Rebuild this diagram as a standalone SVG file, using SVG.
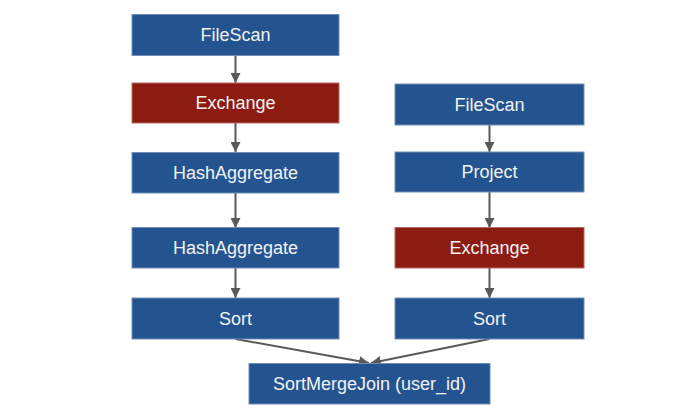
<svg xmlns="http://www.w3.org/2000/svg" width="700" height="412" viewBox="0 0 700 412">
<defs>
<style>
.blue{fill:#24548f;stroke:#6f8fb8;stroke-width:1}
.red{fill:#8c1b12;stroke:#b86a62;stroke-width:1}
.lbl{font-family:"Liberation Sans",Arial,sans-serif;font-size:18px;fill:#f2f2f2;text-anchor:middle;dominant-baseline:central}
.edge{stroke:#595959;stroke-width:2;fill:none;marker-end:url(#ah)}
</style>
<marker id="ah" viewBox="0 0 10 10" refX="10" refY="5" markerWidth="5" markerHeight="5" orient="auto" markerUnits="strokeWidth">
<path d="M0,0 L10,5 L0,10 z" fill="#595959"/>
</marker>
</defs>
<rect width="700" height="412" fill="#ffffff"/>
<g id="connectors">
<line class="edge" x1="235.5" y1="55" x2="235.5" y2="83"/>
<line class="edge" x1="235.5" y1="123" x2="235.5" y2="152"/>
<line class="edge" x1="235.5" y1="193" x2="235.5" y2="228"/>
<line class="edge" x1="235.5" y1="268" x2="235.5" y2="298"/>
<line class="edge" x1="489.5" y1="125" x2="489.5" y2="152"/>
<line class="edge" x1="489.5" y1="192" x2="489.5" y2="228"/>
<line class="edge" x1="489.5" y1="268" x2="489.5" y2="298"/>
<line class="edge" x1="235.5" y1="339" x2="369" y2="363"/>
<line class="edge" x1="489.5" y1="339" x2="371" y2="363"/>
</g>
<g id="n1"><rect class="blue" x="132" y="14.5" width="207" height="41"/><text class="lbl" x="235.5" y="35">FileScan</text></g>
<g id="n2"><rect class="red" x="132" y="83" width="207" height="40"/><text class="lbl" x="235.5" y="103">Exchange</text></g>
<g id="n3"><rect class="blue" x="132" y="152.5" width="207" height="40.5"/><text class="lbl" x="235.5" y="173">HashAggregate</text></g>
<g id="n4"><rect class="blue" x="132" y="227.5" width="207" height="40.5"/><text class="lbl" x="235.5" y="248">HashAggregate</text></g>
<g id="n5"><rect class="blue" x="132" y="298" width="207" height="41"/><text class="lbl" x="235.5" y="319">Sort</text></g>
<g id="n6"><rect class="blue" x="395" y="84" width="189" height="41"/><text class="lbl" x="489.5" y="105">FileScan</text></g>
<g id="n7"><rect class="blue" x="395" y="152" width="189" height="40"/><text class="lbl" x="489.5" y="172">Project</text></g>
<g id="n8"><rect class="red" x="395" y="227.5" width="189" height="40.5"/><text class="lbl" x="489.5" y="248">Exchange</text></g>
<g id="n9"><rect class="blue" x="395" y="298" width="189" height="41"/><text class="lbl" x="489.5" y="319">Sort</text></g>
<g id="n10"><rect class="blue" x="249" y="363.5" width="241" height="40.5"/><text class="lbl" x="369.5" y="384">SortMergeJoin (user_id)</text></g>
</svg>
